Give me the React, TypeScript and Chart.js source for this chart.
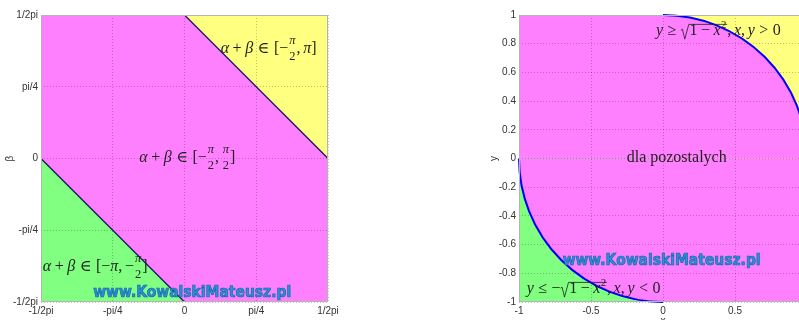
import React, { useEffect, useRef } from 'react';
import { Chart, registerables } from 'chart.js';
Chart.register(...registerables);

const PI = Math.PI;

// ---------- data: left chart ----------
const leftTickValues = [-PI / 2, -PI / 4, 0, PI / 4, PI / 2];
const leftTickLabels = ['-1/2pi', '-pi/4', '0', 'pi/4', '1/2pi'];
const leftLowerBoundary = [{ x: -PI / 2, y: 0 }, { x: 0, y: -PI / 2 }];
const leftUpperBoundary = [{ x: 0, y: PI / 2 }, { x: PI / 2, y: 0 }];

// ---------- data: right chart ----------
const rightXTicks = [-1, -0.5, 0, 0.5, 1];
const rightXTickLabels = ['-1', '-0.5', '0', '0.5', '1'];
const rightYTicks = [-1, -0.8, -0.6, -0.4, -0.2, 0, 0.2, 0.4, 0.6, 0.8, 1];
const rightYTickLabels = ['-1', '-0.8', '-0.6', '-0.4', '-0.2', '0', '0.2', '0.4', '0.6', '0.8', '1'];
const circleCenter = [0, 0];
const circleRadius = 1;
const yellowQuadrant = [[0, 1], [0, 1]];
const greenQuadrant = [[-1, 0], [-1, 0]];
const arcSpansDeg = [[0, 90], [180, 270]];

// ---------- text ----------
type Tok =
  | { k: 'it' | 'rm' | 'op' | 'rel' | 'punct'; s: string }
  | { k: 'frac'; n: string; d: string }
  | { k: 'sup'; s: string }
  | { k: 'sqrt'; body: Tok[] };

const abIn: Tok[] = [
  { k: 'it', s: 'α' }, { k: 'op', s: '+' }, { k: 'it', s: 'β' }, { k: 'rel', s: '∈' }, { k: 'rm', s: '[' },
];
const labelYellow: Tok[] = [...abIn, { k: 'rm', s: '−' }, { k: 'frac', n: 'π', d: '2' }, { k: 'punct', s: ',' }, { k: 'it', s: 'π' }, { k: 'rm', s: ']' }];
const labelMagenta: Tok[] = [...abIn, { k: 'rm', s: '−' }, { k: 'frac', n: 'π', d: '2' }, { k: 'punct', s: ',' }, { k: 'frac', n: 'π', d: '2' }, { k: 'rm', s: ']' }];
const labelGreen: Tok[] = [...abIn, { k: 'rm', s: '−' }, { k: 'it', s: 'π' }, { k: 'punct', s: ',' }, { k: 'rm', s: '−' }, { k: 'frac', n: 'π', d: '2' }, { k: 'rm', s: ']' }];
const sqrtBody: Tok[] = [{ k: 'rm', s: '1' }, { k: 'op', s: '−' }, { k: 'it', s: 'x' }, { k: 'sup', s: '2' }];
const labelTop: Tok[] = [{ k: 'it', s: 'y' }, { k: 'rel', s: '≥' }, { k: 'sqrt', body: sqrtBody }, { k: 'punct', s: ',' }, { k: 'it', s: 'x' }, { k: 'punct', s: ',' }, { k: 'it', s: 'y' }, { k: 'rel', s: '>' }, { k: 'rm', s: '0' }];
const labelRest: Tok[] = [{ k: 'rm', s: 'dla pozostalych' }];
const labelBottom: Tok[] = [{ k: 'it', s: 'y' }, { k: 'rel', s: '≤' }, { k: 'rm', s: '−' }, { k: 'sqrt', body: sqrtBody }, { k: 'punct', s: ',' }, { k: 'it', s: 'x' }, { k: 'punct', s: ',' }, { k: 'it', s: 'y' }, { k: 'rel', s: '<' }, { k: 'rm', s: '0' }];

const leftLabels = [
  { x: 0.396, y: 1.155, tokens: labelYellow },
  { x: -0.495, y: -0.041, tokens: labelMagenta },
  { x: -1.552, y: -1.231, tokens: labelGreen },
];
const rightLabels = [
  { x: -0.049, y: 0.861, tokens: labelTop },
  { x: -0.252, y: -0.026, tokens: labelRest },
  { x: -0.947, y: -0.937, tokens: labelBottom },
];
const watermarkText = 'www.KowalskiMateusz.pl';
const leftWatermark = { x: -0.999, y: -1.472 };
const rightWatermark = { x: -0.697, y: -0.714 };

// ---------- styles ----------
const MAGENTA = '#ff80ff';
const GREEN = '#80ff80';
const YELLOW = '#ffff80';
const SERIF = '"Liberation Serif", "DejaVu Serif", serif';
const SANS = '"Liberation Sans", Arial, sans-serif';
const TEXT = '#1e1e1e';
const MATH_SIZE = 16;

function layoutMath(ctx: CanvasRenderingContext2D, toks: Tok[], size: number, x0: number, base: number, draw: boolean): number {
  let cx = x0;
  const put = (s: string, font: string, x: number, y: number) => {
    ctx.font = font;
    const w = ctx.measureText(s).width;
    if (draw) ctx.fillText(s, x, y);
    return w;
  };
  const it = (sz: number) => `italic ${sz}px ${SERIF}`;
  const rm = (sz: number) => `${sz}px ${SERIF}`;
  for (const t of toks) {
    if (t.k === 'it') cx += put(t.s, it(size), cx, base);
    else if (t.k === 'rm') cx += put(t.s, rm(size), cx, base);
    else if (t.k === 'op') { cx += 0.22 * size; cx += put(t.s, rm(size), cx, base); cx += 0.22 * size; }
    else if (t.k === 'rel') { cx += 0.28 * size; cx += put(t.s, rm(size), cx, base); cx += 0.28 * size; }
    else if (t.k === 'punct') { cx += put(t.s, rm(size), cx, base); cx += 0.17 * size; }
    else if (t.k === 'sup') { cx += put(t.s, rm(size * 0.68), cx + 0.5, base - 0.42 * size) + 0.5; }
    else if (t.k === 'frac') {
      const fs = size * 0.78;
      ctx.font = it(fs);
      const wn = ctx.measureText(t.n).width;
      ctx.font = rm(fs);
      const wd = ctx.measureText(t.d).width;
      const w = Math.max(wn, wd) + 2;
      if (draw) {
        put(t.n, it(fs), cx + (w - wn) / 2, base - 0.56 * size);
        put(t.d, rm(fs), cx + (w - wd) / 2, base + 0.43 * size);
      }
      cx += w;
    } else if (t.k === 'sqrt') {
      const bw = layoutMath(ctx, t.body, size, 0, base, false);
      const top = base - 0.66 * size;
      const rw = 0.5 * size;
      if (draw) {
        ctx.beginPath();
        ctx.lineWidth = 0.8;
        ctx.moveTo(cx, base - 0.3 * size);
        ctx.lineTo(cx + 0.1 * size, base - 0.36 * size);
        ctx.lineTo(cx + 0.25 * size, base + 0.26 * size);
        ctx.lineTo(cx + rw, top);
        ctx.lineTo(cx + rw + bw + 0.08 * size, top);
        ctx.stroke();
        layoutMath(ctx, t.body, size, cx + rw + 0.04 * size, base, true);
      }
      cx += rw + bw + 0.08 * size;
    }
  }
  return cx - x0;
}

function drawWatermark(ctx: CanvasRenderingContext2D, x: number, cy: number, targetW: number) {
  ctx.save();
  ctx.font = `bold 15px "DejaVu Sans", sans-serif`;
  const w = ctx.measureText(watermarkText).width;
  ctx.translate(x, cy);
  ctx.scale(targetW / w, 1);
  ctx.textBaseline = 'middle';
  ctx.textAlign = 'left';
  ctx.fillStyle = '#2a8fd8';
  ctx.strokeStyle = '#1a65a8';
  ctx.lineWidth = 0.7;
  ctx.fillText(watermarkText, 0, 0);
  ctx.strokeText(watermarkText, 0, 0);
  ctx.restore();
}

const backgroundPlugin = {
  id: 'plotBackground',
  beforeDraw(chart: any) {
    const { ctx, chartArea: a } = chart;
    ctx.save();
    ctx.fillStyle = MAGENTA;
    ctx.fillRect(a.left, a.top, a.right - a.left, a.bottom - a.top);
    ctx.restore();
  },
};

function annotationPlugin(labels: { x: number; y: number; tokens: Tok[] }[], wm: { x: number; y: number }) {
  return {
    id: 'annotations',
    afterDraw(chart: any) {
      const { ctx, chartArea: a, scales } = chart;
      const sx = scales.x, sy = scales.y;
      ctx.save();
      ctx.strokeStyle = '#b4b4b4';
      ctx.lineWidth = 1;
      ctx.setLineDash([]);
      ctx.strokeRect(a.left + 0.5, a.top + 0.5, a.right - a.left - 1, a.bottom - a.top - 1);
      ctx.fillStyle = TEXT;
      ctx.strokeStyle = TEXT;
      ctx.textBaseline = 'alphabetic';
      ctx.textAlign = 'left';
      for (const l of labels) {
        layoutMath(ctx, l.tokens, MATH_SIZE, sx.getPixelForValue(l.x), sy.getPixelForValue(l.y), true);
      }
      drawWatermark(ctx, sx.getPixelForValue(wm.x), sy.getPixelForValue(wm.y), 198);
      ctx.restore();
    },
  };
}

const circlePlugin = {
  id: 'circleRegions',
  beforeDraw(chart: any) {
    const { ctx, chartArea: a, scales } = chart;
    const sx = scales.x, sy = scales.y;
    const cx = sx.getPixelForValue(circleCenter[0]);
    const cy = sy.getPixelForValue(circleCenter[1]);
    const rx = sx.getPixelForValue(circleCenter[0] + circleRadius) - cx;
    const ry = cy - sy.getPixelForValue(circleCenter[1] + circleRadius);
    const regions: [number[][], string][] = [[yellowQuadrant, YELLOW], [greenQuadrant, GREEN]];
    for (const [q, color] of regions) {
      const x1 = sx.getPixelForValue(q[0][0]), x2 = sx.getPixelForValue(q[0][1]);
      const y1 = sy.getPixelForValue(q[1][1]), y2 = sy.getPixelForValue(q[1][0]);
      ctx.save();
      ctx.beginPath();
      ctx.rect(Math.max(x1, a.left), Math.max(y1, a.top), Math.min(x2, a.right) - Math.max(x1, a.left), Math.min(y2, a.bottom) - Math.max(y1, a.top));
      ctx.clip();
      ctx.beginPath();
      ctx.rect(x1, y1, x2 - x1, y2 - y1);
      ctx.ellipse(cx, cy, rx, ry, 0, 0, 2 * PI);
      ctx.fillStyle = color;
      ctx.fill('evenodd');
      ctx.restore();
    }
  },
  afterDatasetsDraw(chart: any) {
    const { ctx, scales } = chart;
    const sx = scales.x, sy = scales.y;
    const cx = sx.getPixelForValue(circleCenter[0]);
    const cy = sy.getPixelForValue(circleCenter[1]);
    const rx = sx.getPixelForValue(circleCenter[0] + circleRadius) - cx;
    const ry = cy - sy.getPixelForValue(circleCenter[1] + circleRadius);
    ctx.save();
    ctx.strokeStyle = '#0000ff';
    ctx.lineWidth = 2;
    for (const [from, to] of arcSpansDeg) {
      ctx.beginPath();
      ctx.ellipse(cx, cy, rx, ry, 0, (-to * PI) / 180, (-from * PI) / 180);
      ctx.stroke();
    }
    ctx.restore();
  },
};

const tickFont = { family: SANS, size: 10 };
const gridOpts = (z: number) => ({ color: 'rgba(0,0,0,0.24)', lineWidth: 1, drawTicks: false, z });
const borderOpts = { display: false, dash: [1, 2] };

function leftConfig(): any {
  return {
    type: 'scatter',
    data: {
      datasets: [
        { data: leftLowerBoundary, showLine: true, borderColor: '#14146e', borderWidth: 1.3, pointRadius: 0, fill: 'start', backgroundColor: GREEN },
        { data: leftUpperBoundary, showLine: true, borderColor: '#14146e', borderWidth: 1.3, pointRadius: 0, fill: 'end', backgroundColor: YELLOW },
      ],
    },
    options: {
      responsive: false,
      animation: false,
      events: [],
      layout: { padding: { top: 15, right: 52, left: 0, bottom: 0 } },
      plugins: { legend: { display: false }, tooltip: { enabled: false } },
      scales: {
        x: {
          type: 'linear', min: -PI / 2, max: PI / 2,
          afterBuildTicks: (s: any) => { s.ticks = leftTickValues.map((v) => ({ value: v })); },
          afterFit: (s: any) => { s.height = 18; },
          ticks: { callback: (_v: any, i: number) => leftTickLabels[i], font: tickFont, color: '#333', padding: 3, maxRotation: 0, minRotation: 0, autoSkip: false },
          grid: gridOpts(1), border: borderOpts,
        },
        y: {
          type: 'linear', min: -PI / 2, max: PI / 2,
          afterBuildTicks: (s: any) => { s.ticks = leftTickValues.map((v) => ({ value: v })); },
          afterFit: (s: any) => { s.width = 41; },
          ticks: { callback: (_v: any, i: number) => leftTickLabels[i], font: tickFont, color: '#333', padding: 3, autoSkip: false },
          title: { display: true, text: 'β', font: tickFont, color: '#333', padding: { top: 4, bottom: 4 } },
          grid: gridOpts(1), border: borderOpts,
        },
      },
    },
    plugins: [backgroundPlugin, annotationPlugin(leftLabels, leftWatermark)],
  };
}

function rightConfig(): any {
  return {
    type: 'scatter',
    data: { datasets: [] },
    options: {
      responsive: false,
      animation: false,
      events: [],
      layout: { padding: { top: 15, right: 13, left: 0, bottom: 0 } },
      plugins: { legend: { display: false }, tooltip: { enabled: false } },
      scales: {
        x: {
          type: 'linear', min: -1, max: 1,
          afterBuildTicks: (s: any) => { s.ticks = rightXTicks.map((v) => ({ value: v })); },
          afterFit: (s: any) => { s.height = 30; },
          ticks: { callback: (_v: any, i: number) => rightXTickLabels[i], font: tickFont, color: '#333', padding: 3, maxRotation: 0, minRotation: 0, autoSkip: false },
          title: { display: true, text: 'x', font: tickFont, color: '#333', padding: { top: 4, bottom: 5 } },
          grid: gridOpts(-1), border: borderOpts,
        },
        y: {
          type: 'linear', min: -1, max: 1,
          afterBuildTicks: (s: any) => { s.ticks = rightYTicks.map((v) => ({ value: v })); },
          afterFit: (s: any) => { s.width = 39; },
          ticks: { callback: (_v: any, i: number) => rightYTickLabels[i], font: tickFont, color: '#333', padding: 3, autoSkip: false },
          title: { display: true, text: 'y', font: tickFont, color: '#333', padding: { top: 8, bottom: 4 } },
          grid: gridOpts(-1), border: borderOpts,
        },
      },
    },
    plugins: [backgroundPlugin, circlePlugin, annotationPlugin(rightLabels, rightWatermark)],
  };
}

export default function App() {
  const leftRef = useRef<HTMLCanvasElement>(null);
  const rightRef = useRef<HTMLCanvasElement>(null);
  useEffect(() => {
    const c1 = new Chart(leftRef.current as HTMLCanvasElement, leftConfig());
    const c2 = new Chart(rightRef.current as HTMLCanvasElement, rightConfig());
    return () => { c1.destroy(); c2.destroy(); };
  }, []);
  return (
    <div style={{ position: 'fixed', left: 0, top: 0, width: 799, height: 320, overflow: 'hidden', background: '#fff' }}>
      <canvas ref={leftRef} width={380} height={320} style={{ position: 'absolute', left: 0, top: 0 }} />
      <canvas ref={rightRef} width={340} height={332} style={{ position: 'absolute', left: 480, top: 0 }} />
    </div>
  );
}
